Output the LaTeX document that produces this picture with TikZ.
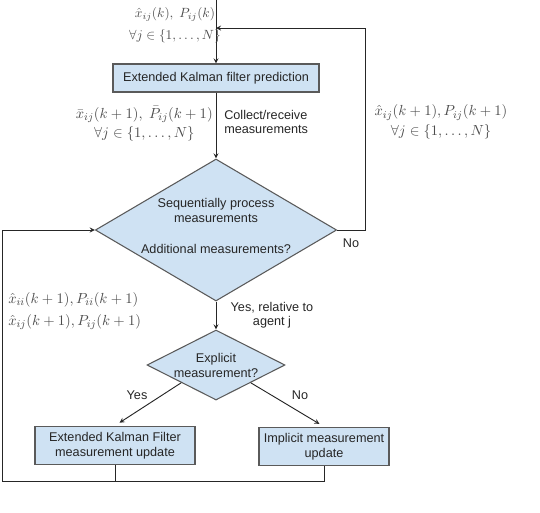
\documentclass[tikz,border=0pt]{standalone}
\usepackage{amsmath,amssymb}
\usepackage[no-math]{fontspec}
\setmainfont{Liberation Sans}
\usetikzlibrary{shapes.geometric}
\definecolor{boxblue}{HTML}{CFE2F3}
\definecolor{edgegray}{HTML}{5A5A5A}

\begin{document}
\begin{tikzpicture}[x=0.75pt, y=-0.75pt, >=stealth,
	box/.style={draw=edgegray, fill=boxblue, line width=0.8pt, align=center, inner sep=0pt,
		font=\fontsize{9.5}{11.25}\selectfont, text=black!85},
	decision/.style={diamond, draw=edgegray, fill=boxblue, line width=0.8pt, align=center, inner sep=0pt,
		font=\fontsize{9.5}{11.25}\selectfont, text=black!85},
	lbl/.style={font=\fontsize{9.5}{10.5}\selectfont, text=black!85, inner sep=0pt, align=center},
	mlbl/.style={font=\fontsize{11}{14.5}\selectfont, text=black!70, inner sep=0pt, align=center},
	link/.style={line width=0.7pt, black!85}]
	\useasboundingbox (0,0) rectangle (540,512);
	% Khối xử lý và khối quyết định
	\node[box, minimum width=154.5pt, minimum height=21pt] (pred) at (216,78) {Extended Kalman filter prediction};
	\node[decision, aspect=1.7, inner sep=-3pt, minimum width=181pt, minimum height=106.5pt] (seq) at (216,230)
		{Sequentially process\\measurements\\[12pt]Additional measurements?\\[-5.25pt]\mbox{}};
	\node[decision, aspect=1.97, minimum width=103.5pt, minimum height=52.5pt] (expl) at (216,365)
		{Explicit\\measurement?};
	\node[box, minimum width=120pt, minimum height=29pt] (ekf) at (115,445.5)
		{Extended Kalman Filter\\measurement update};
	\node[box, minimum width=97.5pt, minimum height=29pt] (imp) at (324,446.5)
		{Implicit measurement\\update};
	% Các điểm nối phụ
	\coordinate (topin) at (216,0);
	\coordinate (merge) at (216,28);
	\coordinate (rt) at (365,28);
	\coordinate (bl) at (2,481);
	% Các đường nối chính
	\draw[link, ->] (topin) -- (pred.north);
	\draw[link, ->] (pred.south) -- (seq.north);
	\draw[link, ->] (seq.east) -| (rt) -- (merge);
	\draw[link, ->] (seq.south) -- (expl.north);
	\foreach \a/\b in {south west/ekf, south east/imp} {
		\draw[link, ->, shorten >=4pt] (expl.\a) -- (\b.north);
	}
	% Vòng lặp phản hồi phía dưới
	\draw[link] (ekf.south) -- (ekf.south |- bl);
	\draw[link, ->] (imp.south) |- (bl) |- (seq.west);
	% Nhãn toán học
	\node[mlbl, font=\fontsize{10}{17}\selectfont] (inlbl) at (175,25)
		{$\hat{x}_{ij}(k),\ P_{ij}(k)$\\$\forall j\in\{1,\ldots,N\}$};
	\node[mlbl, anchor=east] (predlbl) at (213,124)
		{$\bar{x}_{ij}(k+1),\ \bar{P}_{ij}(k+1)$\\$\forall j\in\{1,\ldots,N\}$};
	\node[mlbl] (fblbl) at (441,122)
		{$\hat{x}_{ij}(k+1), P_{ij}(k+1)$\\$\forall j\in\{1,\ldots,N\}$};
	\node[mlbl, anchor=west, align=left, font=\fontsize{11}{16.5}\selectfont] (updlbl) at (8,311)
		{$\hat{x}_{ii}(k+1), P_{ii}(k+1)$\\$\hat{x}_{ij}(k+1), P_{ij}(k+1)$};
	% Nhãn chữ
	\node[lbl, anchor=west, align=left] (collect) at (224,122) {Collect/receive\\measurements};
	\node[lbl] (nomore) at (351,243) {No};
	\node[lbl] (yesrel) at (272,315) {Yes, relative to\\agent j};
	\node[lbl] (yes) at (137,395) {Yes};
	\node[lbl] (no) at (300,395) {No};
\end{tikzpicture}
\end{document}
